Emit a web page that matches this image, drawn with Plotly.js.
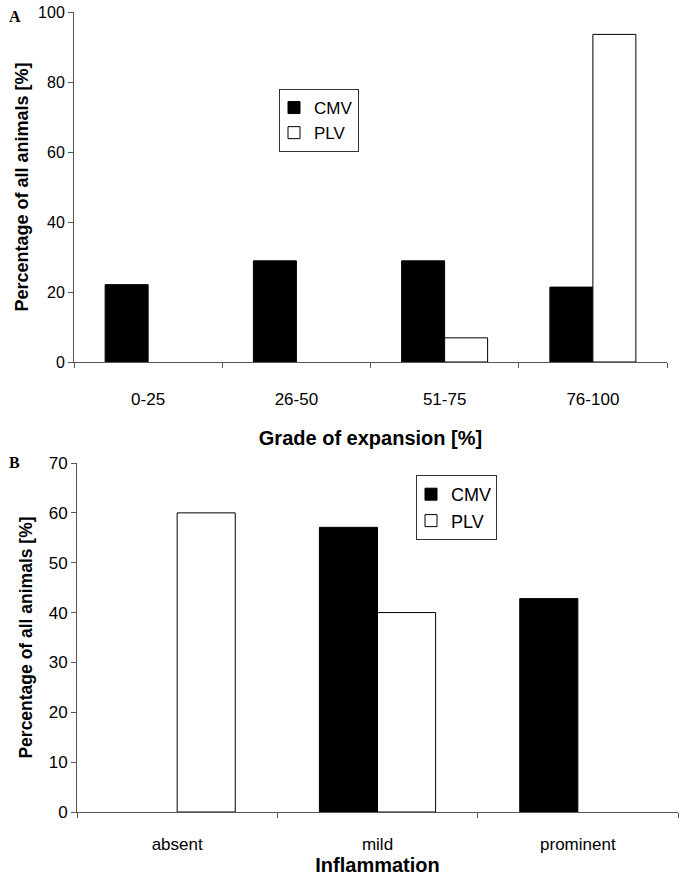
<!DOCTYPE html>
<html>
<head>
<meta charset="utf-8">
<script src="https://cdn.plot.ly/plotly-3.0.1.min.js"></script>
<style>
  html, body { margin: 0; padding: 0; background: #ffffff; }
  #chart { width: 685px; height: 876px; }
</style>
</head>
<body>
<div id="chart"></div>
<script>
// Panel A: Grade of expansion
var categoriesA = ["0-25", "26-50", "51-75", "76-100"];
var cmvA = [22.1, 28.9, 28.9, 21.4];
var plvA = [0, 0, 6.9, 93.6];

// Panel B: Inflammation
var categoriesB = ["absent", "mild", "prominent"];
var cmvB = [0, 57.1, 42.8];
var plvB = [60, 40, 0];

var font = "Liberation Sans, Arial, Helvetica, sans-serif";

// zero-height bars are not drawn (no outline on the baseline)
function drawn(vals) { return vals.map(function (v) { return v > 0 ? v : null; }); }

var traces = [
  { type: "bar", name: "CMV", x: categoriesA, y: drawn(cmvA), xaxis: "x", yaxis: "y",
    marker: { color: "#000000", line: { color: "#000000", width: 1 } }, legend: "legend" },
  { type: "bar", name: "PLV", x: categoriesA, y: drawn(plvA), xaxis: "x", yaxis: "y",
    marker: { color: "#ffffff", line: { color: "#000000", width: 1 } }, legend: "legend" },
  { type: "bar", name: "CMV", x: categoriesB, y: drawn(cmvB), xaxis: "x2", yaxis: "y2",
    marker: { color: "#000000", line: { color: "#000000", width: 1 } }, legend: "legend2" },
  { type: "bar", name: "PLV", x: categoriesB, y: drawn(plvB), xaxis: "x2", yaxis: "y2",
    marker: { color: "#ffffff", line: { color: "#000000", width: 1 } }, legend: "legend2" }
];

var axisCommon = {
  showgrid: false, zeroline: false, showline: true, linecolor: "#555555", linewidth: 1,
  ticks: "outside", ticklen: 5, tickcolor: "#555555", automargin: false,
  tickfont: { family: font, size: 17, color: "#000000" }
};

var layout = {
  width: 685, height: 876,
  margin: { l: 0, r: 0, t: 0, b: 0 },
  paper_bgcolor: "#ffffff", plot_bgcolor: "#ffffff",
  barmode: "group", bargap: 0.42, bargroupgap: 0,
  showlegend: true,
  font: { family: font, color: "#000000" },
  xaxis: Object.assign({}, axisCommon, {
    domain: [74/685, 667/685], anchor: "y", tickson: "boundaries",
    ticklabelstandoff: 22,
    title: { text: "Grade of expansion [%]", font: { family: font, size: 20, weight: "bold" }, standoff: 22 }
  }),
  yaxis: Object.assign({}, axisCommon, {
    domain: [1 - 362/876, 1 - 12/876], anchor: "x", range: [0, 100], dtick: 20,
    tickfont: { family: font, size: 16, color: "#000000" },
    title: { text: "Percentage of all animals [%]", font: { family: font, size: 18, weight: "bold" } }
  }),
  xaxis2: Object.assign({}, axisCommon, {
    domain: [77/685, 678/685], anchor: "y2", tickson: "boundaries",
    ticklabelstandoff: 17,
    title: { text: "Inflammation", font: { family: font, size: 20, weight: "bold" }, standoff: 3 }
  }),
  yaxis2: Object.assign({}, axisCommon, {
    domain: [1 - 812/876, 1 - 463/876], anchor: "x2", range: [0, 70], dtick: 10,
    title: { text: "Percentage of all animals [%]", font: { family: font, size: 17.5, weight: "bold" } }
  }),
  legend: {
    x: 279/685, y: 1 - 89/876, xanchor: "left", yanchor: "top", indentation: -6,
    bgcolor: "#ffffff", bordercolor: "#333333", borderwidth: 1,
    font: { family: font, size: 17, color: "#000000" }, traceorder: "normal", tracegroupgap: 0
  },
  legend2: {
    x: 416/685, y: 1 - 475/876, xanchor: "left", yanchor: "top", indentation: -6,
    bgcolor: "#ffffff", bordercolor: "#333333", borderwidth: 1,
    font: { family: font, size: 18, color: "#000000" }, traceorder: "normal", tracegroupgap: 0
  },
  annotations: [
    { text: "<b>A</b>", xref: "paper", yref: "paper", x: 7/685, y: 1 - 6/876, xanchor: "left", yanchor: "top",
      showarrow: false, font: { family: "Liberation Serif, Times New Roman, serif", size: 16, color: "#000000" } },
    { text: "<b>B</b>", xref: "paper", yref: "paper", x: 7/685, y: 1 - 452/876, xanchor: "left", yanchor: "top",
      showarrow: false, font: { family: "Liberation Serif, Times New Roman, serif", size: 16, color: "#000000" } }
  ]
};

Plotly.newPlot("chart", traces, layout, { displayModeBar: false, staticPlot: true });
</script>
</body>
</html>
